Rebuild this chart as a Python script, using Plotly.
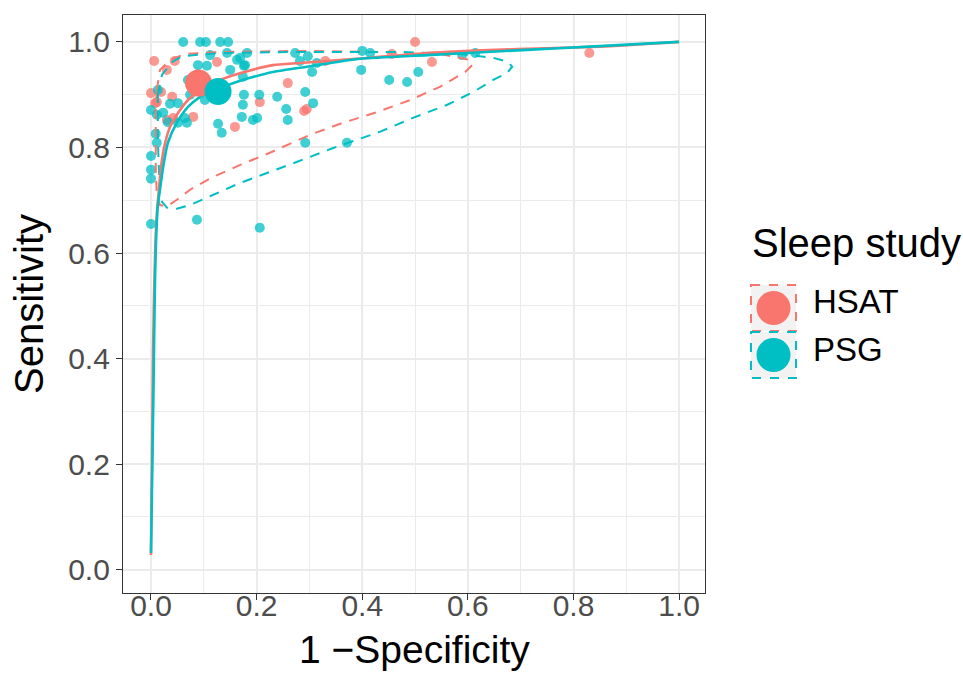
import plotly.graph_objects as go

# ---------------- data ----------------
hsat_fpr = [0.500, 0.830, 0.532, 0.456, 0.330, 0.259, 0.295, 0.290, 0.206, 0.159,
            0.125, 0.006, 0.030, 0.045, 0.000, 0.019, 0.011, 0.040, 0.008, 0.030,
            0.080, 0.042]
hsat_sens = [1.000, 0.979, 0.962, 0.977, 0.964, 0.922, 0.873, 0.869, 0.886, 0.839,
             0.962, 0.964, 0.947, 0.964, 0.903, 0.905, 0.886, 0.896, 0.884, 0.852,
             0.858, 0.856]

psg_fpr = [0.061, 0.093, 0.104, 0.131, 0.146,
           0.112, 0.144, 0.163, 0.182, 0.178, 0.150, 0.089, 0.106,
           0.174, 0.070, 0.083,
           0.273, 0.282, 0.297, 0.305, 0.314,
           0.400, 0.415, 0.398, 0.451, 0.485, 0.506, 0.589, 0.614,
           0.169, 0.176,
           0.292, 0.176, 0.205, 0.239, 0.174, 0.307, 0.256, 0.201, 0.259,
           0.172, 0.193, 0.127, 0.134, 0.292, 0.371,
           0.087, 0.206, 0.000,
           0.000, 0.011, 0.023, 0.036, 0.051, 0.068, 0.051, 0.032, 0.009,
           0.011, 0.000, 0.000, 0.000, 0.013, 0.064, 0.102, 0.074]
psg_sens = [1.000, 1.000, 1.000, 1.000, 1.000,
            0.975, 0.979, 0.966, 0.979, 0.956, 0.947, 0.956, 0.955,
            0.934, 0.928, 0.930,
            0.979, 0.964, 0.973, 0.943, 0.960,
            0.983, 0.979, 0.947, 0.928, 0.924, 0.943, 0.975, 0.979,
            0.970, 0.955,
            0.905, 0.900, 0.900, 0.896, 0.881, 0.884, 0.873, 0.856, 0.852,
            0.858, 0.852, 0.845, 0.828, 0.809, 0.809,
            0.663, 0.648, 0.655,
            0.871, 0.862, 0.866, 0.883, 0.884, 0.847, 0.847, 0.848, 0.826,
            0.809, 0.784, 0.758, 0.741, 0.909, 0.856, 0.890, 0.900]

# summary points
hsat_sum_fpr, hsat_sum_sens = [0.090], [0.922]
psg_sum_fpr, psg_sum_sens = [0.127], [0.906]

# SROC curves (traced)
hsat_sroc_fpr = [0.000, 0.002, 0.004, 0.006, 0.008, 0.011, 0.015, 0.019, 0.025, 0.036,
                 0.055, 0.070, 0.093, 0.121, 0.170, 0.231, 0.282, 0.415, 0.523, 0.712,
                 0.850, 1.000]
hsat_sroc_sens = [0.028, 0.227, 0.417, 0.530, 0.606, 0.673, 0.720, 0.763, 0.801, 0.839,
                  0.871, 0.890, 0.909, 0.924, 0.941, 0.956, 0.960, 0.970, 0.979, 0.987,
                  0.991, 1.000]
psg_sroc_fpr = [0.000, 0.003, 0.005, 0.007, 0.009, 0.013, 0.017, 0.023, 0.032, 0.049,
                0.070, 0.093, 0.121, 0.150, 0.188, 0.231, 0.295, 0.396, 0.523, 0.712,
                0.831, 1.000]
psg_sroc_sens = [0.032, 0.227, 0.360, 0.511, 0.606, 0.691, 0.720, 0.763, 0.809, 0.847,
                 0.877, 0.896, 0.911, 0.920, 0.932, 0.943, 0.953, 0.968, 0.975, 0.985,
                 0.991, 1.000]

# confidence regions (traced)
hsat_cr_fpr = [0.011, 0.017, 0.036, 0.064, 0.131, 0.282, 0.434, 0.547, 0.604, 0.608,
               0.595, 0.547, 0.491, 0.428, 0.364, 0.301, 0.225, 0.169, 0.117, 0.074,
               0.049, 0.030, 0.017, 0.011, 0.009, 0.009, 0.009, 0.011]
hsat_cr_sens = [0.909, 0.947, 0.966, 0.977, 0.981, 0.983, 0.981, 0.977, 0.966, 0.956,
                0.943, 0.915, 0.890, 0.867, 0.847, 0.824, 0.790, 0.767, 0.744, 0.720,
                0.701, 0.688, 0.691, 0.710, 0.758, 0.814, 0.871, 0.909]
psg_cr_fpr = [0.013, 0.021, 0.040, 0.059, 0.131, 0.282, 0.472, 0.585, 0.648, 0.676,
              0.684, 0.674, 0.648, 0.610, 0.561, 0.496, 0.434, 0.345, 0.277, 0.225,
              0.169, 0.117, 0.074, 0.049, 0.030, 0.021, 0.017, 0.015, 0.013, 0.013,
              0.013]
psg_cr_sens = [0.900, 0.938, 0.962, 0.973, 0.979, 0.981, 0.981, 0.977, 0.970, 0.962,
               0.953, 0.941, 0.928, 0.905, 0.881, 0.856, 0.830, 0.799, 0.773, 0.754,
               0.733, 0.710, 0.691, 0.684, 0.686, 0.697, 0.710, 0.758, 0.814, 0.871,
               0.900]

x_ticks = [0.0, 0.2, 0.4, 0.6, 0.8, 1.0]
x_tick_labels = ["0.0", "0.2", "0.4", "0.6", "0.8", "1.0"]
y_ticks = [0.0, 0.2, 0.4, 0.6, 0.8, 1.0]
y_tick_labels = ["0.0", "0.2", "0.4", "0.6", "0.8", "1.0"]

groups = ["HSAT", "PSG"]
RED = "#F8766D"
TEAL = "#00BFC4"
FONT = "Liberation Sans, Arial, sans-serif"

# ---------------- figure ----------------
W, H = 963, 673
ML, MR, MT, MB = 123, 258, 15, 80

fig = go.Figure()

fig.add_trace(go.Scatter(x=hsat_fpr, y=hsat_sens, mode="markers", name="HSAT",
                         marker=dict(color=RED, size=10, opacity=0.75, line=dict(width=0)),
                         showlegend=False))
fig.add_trace(go.Scatter(x=psg_fpr, y=psg_sens, mode="markers", name="PSG",
                         marker=dict(color=TEAL, size=10, opacity=0.75, line=dict(width=0)),
                         showlegend=False))

fig.add_trace(go.Scatter(x=hsat_cr_fpr, y=hsat_cr_sens, mode="lines",
                         line=dict(color=RED, width=2, dash="10px,8px"), showlegend=False))
fig.add_trace(go.Scatter(x=psg_cr_fpr, y=psg_cr_sens, mode="lines",
                         line=dict(color=TEAL, width=2, dash="10px,8px"), showlegend=False))

fig.add_trace(go.Scatter(x=hsat_sroc_fpr, y=hsat_sroc_sens, mode="lines",
                         line=dict(color=RED, width=2.6, shape="spline", smoothing=0.6),
                         showlegend=False))
fig.add_trace(go.Scatter(x=psg_sroc_fpr, y=psg_sroc_sens, mode="lines",
                         line=dict(color=TEAL, width=2.6, shape="spline", smoothing=0.6),
                         showlegend=False))

fig.add_trace(go.Scatter(x=hsat_sum_fpr, y=hsat_sum_sens, mode="markers",
                         marker=dict(color=RED, size=27, line=dict(width=0)), showlegend=False))
fig.add_trace(go.Scatter(x=psg_sum_fpr, y=psg_sum_sens, mode="markers",
                         marker=dict(color=TEAL, size=27, line=dict(width=0)), showlegend=False))

axis_common = dict(
    showgrid=True, gridcolor="#EBEBEB", gridwidth=2,
    zeroline=False, showline=True, linecolor="#333333", linewidth=1.3, mirror=True,
    ticks="outside", ticklen=6, tickwidth=1.3, tickcolor="#333333",
    tickfont=dict(family=FONT, size=30, color="#4D4D4D"),
    minor=dict(dtick=0.1, showgrid=True, gridcolor="#EBEBEB", gridwidth=1.2, ticks=""),
)

fig.update_layout(
    width=W, height=H,
    margin=dict(l=ML, r=MR, t=MT, b=MB, autoexpand=False),
    paper_bgcolor="white", plot_bgcolor="white",
    font=dict(family=FONT, color="black"),
    showlegend=False,
    xaxis=dict(range=[-0.053, 1.049], tickvals=x_ticks, ticktext=x_tick_labels,
               ticklabelstandoff=-20,
               automargin=False, **axis_common),
    yaxis=dict(range=[-0.044, 1.051], tickvals=y_ticks, ticktext=y_tick_labels,
               title=dict(text="Sensitivity", font=dict(family=FONT, size=40, color="black"),
                          standoff=12),
               automargin=False, **axis_common),
)

# ---------------- manual ggplot-style legend and x title ----------------
pw, ph = W - ML - MR, H - MT - MB
def px(xp):
    return (xp - ML) / pw
def py(yp):
    return (H - MB - yp) / ph

shapes = []
annotations = [
    dict(xref="paper", yref="paper", x=0.5, y=py(649), text="1 \u2212Specificity",
         showarrow=False, xanchor="center", yanchor="middle",
         font=dict(family=FONT, size=39, color="black")),
    dict(xref="paper", yref="paper", x=px(750), y=py(243), text="Sleep study",
         showarrow=False, xanchor="left", yanchor="middle",
         font=dict(family=FONT, size=40, color="black")),
]
key_tops = [285, 332]
for g, col, top in zip(groups, [RED, TEAL], key_tops):
    shapes.append(dict(type="rect", xref="paper", yref="paper",
                       x0=px(751), x1=px(796), y0=py(top), y1=py(top + 46),
                       fillcolor="#F2F2F2", line=dict(color=col, width=2, dash="dash"), layer="above"))
    cy = top + 23
    shapes.append(dict(type="circle", xref="paper", yref="paper",
                       x0=px(773.5 - 17), x1=px(773.5 + 17), y0=py(cy - 17), y1=py(cy + 17),
                       fillcolor=col, line=dict(width=0), layer="above"))
    annotations.append(dict(xref="paper", yref="paper", x=px(811), y=py(cy - 6), text=g,
                            showarrow=False, xanchor="left", yanchor="middle",
                            font=dict(family=FONT, size=33, color="black")))

fig.update_layout(shapes=shapes, annotations=annotations)

fig.write_html("out.html")
